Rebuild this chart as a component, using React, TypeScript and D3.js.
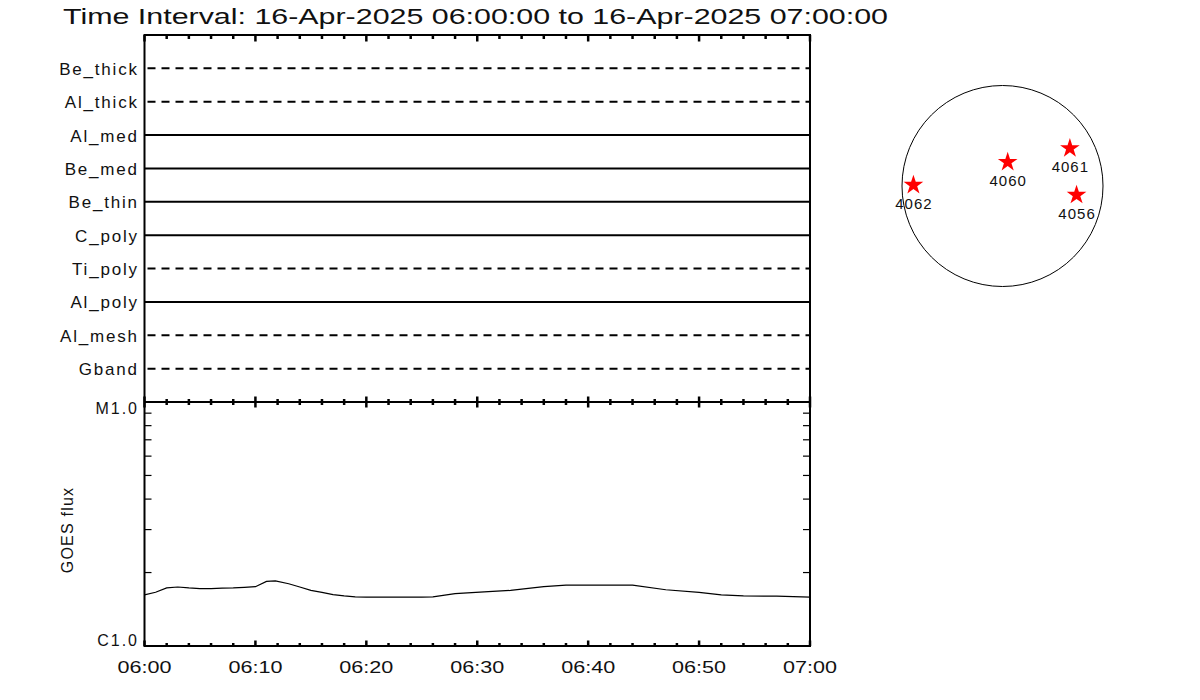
import React from "react";
import * as d3 from "d3";

const TITLE = "Time Interval: 16-Apr-2025 06:00:00 to 16-Apr-2025 07:00:00";

// Channels, top to bottom, and whether the line is dashed
const channelNames = ["Be_thick", "Al_thick", "Al_med", "Be_med", "Be_thin", "C_poly", "Ti_poly", "Al_poly", "Al_mesh", "Gband"];
const channelDashed = [true, true, false, false, false, false, true, false, true, true];

// GOES flux (W/m^2), minutes after 06:00
const goesMinutes = [0, 1, 2, 3, 4, 5, 6, 7, 8, 9, 10, 11, 11.8, 13, 14, 15, 16, 17, 18, 19, 20, 25, 26, 28, 31, 33, 36, 38, 44, 47, 50, 52, 54, 57, 60];
const goesFlux = [1.62e-6, 1.66e-6, 1.73e-6, 1.745e-6, 1.73e-6, 1.72e-6, 1.72e-6, 1.725e-6, 1.73e-6, 1.74e-6, 1.75e-6, 1.84e-6, 1.85e-6, 1.80e-6, 1.745e-6, 1.69e-6, 1.66e-6, 1.625e-6, 1.605e-6, 1.59e-6, 1.585e-6, 1.585e-6, 1.59e-6, 1.64e-6, 1.67e-6, 1.69e-6, 1.75e-6, 1.775e-6, 1.775e-6, 1.70e-6, 1.66e-6, 1.62e-6, 1.605e-6, 1.60e-6, 1.585e-6];

const xTickLabels = ["06:00", "06:10", "06:20", "06:30", "06:40", "06:50", "07:00"];
const yTickLabels = ["C1.0", "M1.0"];

// Active regions (arcsec from disk centre, solar radius ~950")
const regionNames = ["4062", "4060", "4061", "4056"];
const regionX = [-842, 49, 637, 700];
const regionY = [9, 226, 356, -85];
const SOLAR_R = 950;

const FONT = "'Liberation Sans', Arial, sans-serif";

export default function App() {
  const left = 144.5, right = 810, top = 35, mid = 402, bottom = 646;
  const t0 = new Date(Date.UTC(2025, 3, 16, 6, 0, 0));
  const t1 = new Date(Date.UTC(2025, 3, 16, 7, 0, 0));
  const x = d3.scaleUtc().domain([t0, t1]).range([left, right]);
  const minToDate = (m: number) => new Date(t0.getTime() + m * 60000);

  const yCh = d3.scaleLinear().domain([0, channelNames.length + 1]).range([mid, top]);
  const yG = d3.scaleLog().domain([1e-6, 1e-5]).range([bottom, mid]);

  const line = d3.line<number>()
    .x((_, i) => x(minToDate(goesMinutes[i])))
    .y((d) => yG(d));

  const minorTicks = x.ticks(d3.utcMinute.every(2)!);
  const majorTicks = x.ticks(d3.utcMinute.every(10)!);
  const isMajor = (d: Date) => d.getUTCMinutes() % 10 === 0;

  const logMinor = [2, 3, 4, 5, 6, 7, 8, 9].map((k) => k * 1e-6);

  // sun disk
  const cx = 1002.5, cy = 186, R = 100.5;
  const sx = d3.scaleLinear().domain([-SOLAR_R, SOLAR_R]).range([cx - R, cx + R]);
  const sy = d3.scaleLinear().domain([-SOLAR_R, SOLAR_R]).range([cy + R, cy - R]);
  const star = d3.symbol().type(d3.symbolStar).size(120)()!;

  const axisW = 2;
  const lblLS = 1.8;
  const yLS = 2;

  return (
    <svg width={1200} height={700} style={{ position: "absolute", left: 0, top: 0, background: "#fff" }} fontFamily={FONT}>
      <rect x={0} y={0} width={1200} height={700} fill="#fff" />
      <text x={63} y={23.5} fontSize={22} textLength={825} lengthAdjust="spacingAndGlyphs" fill="#111">{TITLE}</text>

      {/* channel lines */}
      {channelNames.map((name, i) => {
        const yy = yCh(channelNames.length - i);
        return (
          <g key={name}>
            <line x1={channelDashed[i] ? left + 3 : left} x2={right} y1={yy} y2={yy}
              stroke="#000" strokeWidth={2} strokeDasharray={channelDashed[i] ? "8 6" : undefined} />
            <text x={137 + lblLS} y={yy + 6.5} fontSize={17} letterSpacing={lblLS} textAnchor="end" fill="#111">{name}</text>
          </g>
        );
      })}

      {/* GOES curve */}
      <path d={line(goesFlux)!} fill="none" stroke="#000" strokeWidth={1.2} />

      {/* frame */}
      <line x1={left} x2={left} y1={top - 1} y2={bottom + 1} stroke="#000" strokeWidth={axisW} />
      <line x1={right} x2={right} y1={top - 1} y2={bottom + 1} stroke="#000" strokeWidth={axisW} />
      <line x1={left} x2={right} y1={top} y2={top} stroke="#000" strokeWidth={axisW} />
      <line x1={left} x2={right} y1={mid} y2={mid} stroke="#000" strokeWidth={axisW} />
      <line x1={left} x2={right} y1={bottom} y2={bottom} stroke="#000" strokeWidth={axisW} />

      {/* time ticks */}
      {minorTicks.map((d, i) => {
        const xx = x(d);
        const len = isMajor(d) ? 6.5 : 4;
        return (
          <g key={i}>
            <line x1={xx} x2={xx} y1={top} y2={top + len} stroke="#000" strokeWidth={2.5} />
            <line x1={xx} x2={xx} y1={mid} y2={mid - len + 1} stroke="#000" strokeWidth={2.5} />
            <line x1={xx} x2={xx} y1={mid} y2={mid + len - 1} stroke="#000" strokeWidth={2.5} />
            <line x1={xx} x2={xx} y1={bottom} y2={bottom - len + 1} stroke="#000" strokeWidth={2.5} />
          </g>
        );
      })}
      {majorTicks.map((d, i) => (
        <text key={i} x={x(d)} y={673} fontSize={16} textAnchor="middle" textLength={54} lengthAdjust="spacingAndGlyphs" fill="#111">
          {xTickLabels[i]}
        </text>
      ))}

      {/* log ticks */}
      {logMinor.map((v, i) => (
        <g key={i}>
          <line x1={left} x2={left + 7} y1={yG(v)} y2={yG(v)} stroke="#000" strokeWidth={1.2} />
          <line x1={right} x2={right - 7} y1={yG(v)} y2={yG(v)} stroke="#000" strokeWidth={1.2} />
        </g>
      ))}
      <text x={137 + yLS} y={yG(1e-5) + 12} fontSize={16} letterSpacing={yLS} textAnchor="end" fill="#111">{yTickLabels[1]}</text>
      <text x={137 + yLS} y={yG(1e-6)} fontSize={16} letterSpacing={yLS} textAnchor="end" fill="#111">{yTickLabels[0]}</text>
      <text transform={`translate(73, ${(mid + bottom) / 2 + 6}) rotate(-90)`} fontSize={16} letterSpacing={1.2} textAnchor="middle" fill="#111">GOES flux</text>

      {/* sun disk */}
      <circle cx={cx} cy={cy} r={R} fill="none" stroke="#000" strokeWidth={1} />
      {regionNames.map((n, i) => {
        const px = sx(regionX[i]);
        const py = sy(regionY[i]);
        return (
          <g key={n}>
            <path d={star} transform={`translate(${px},${py})`} fill="#ff0000" />
            <text x={px + 0.5} y={py + 24} fontSize={15} textAnchor="middle" letterSpacing={1} fill="#111">{n}</text>
          </g>
        );
      })}
    </svg>
  );
}
